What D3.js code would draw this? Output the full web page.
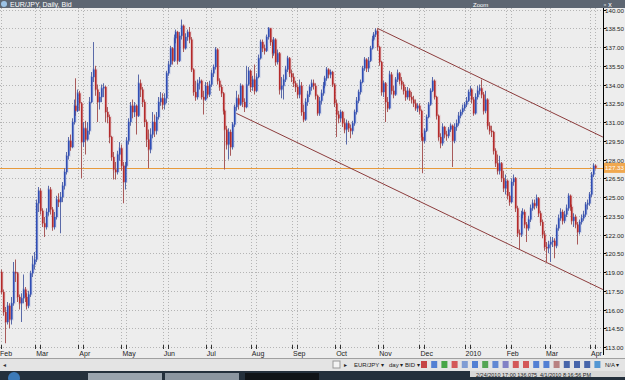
<!DOCTYPE html>
<html>
<head>
<meta charset="utf-8">
<script src="https://cdn.jsdelivr.net/npm/d3@7"></script>
<style>
  body { margin: 0; background: #fff; }
  svg { display: block; font-family: "Liberation Sans", Arial, sans-serif; }
</style>
</head>
<body>
<svg id="svg" width="625" height="380"></svg>
<script>
// EUR/JPY daily bars, Feb 2 2009 .. Apr 1 2010
let firstOpen = 119.0;

let closes = [
  // Feb 2009
  117.4, 115.8, 115.0, 116.3, 115.2, 116.5, 119.0, 118.9, 117.0, 116.5,
  116.9, 117.6, 117.0, 116.3, 117.2, 118.9, 119.6, 120.0, 124.5, 125.5,
  // Mar
  123.9, 122.9, 122.6, 123.8, 125.6, 124.0, 122.6, 123.4, 124.8, 124.6,
  125.0, 125.9, 127.0, 128.3, 129.5, 129.0, 131.0, 132.3, 131.9, 133.3,
  132.5, 129.4,
  // Apr
  130.5, 129.6, 130.3, 132.6, 134.6, 135.2, 133.6, 132.6, 133.0, 133.7,
  133.8, 131.8, 131.4, 129.8, 128.2, 127.2, 127.0, 128.4, 128.9, 127.5,
  126.2, 127.5,
  // May
  129.5, 131.0, 132.3, 131.8, 132.3, 131.5, 134.1, 133.6, 132.6, 131.0,
  129.6, 128.8, 130.0, 131.0, 130.3, 131.4, 132.6, 132.9, 132.4, 132.9,
  134.9,
  // Jun
  135.6, 136.9, 135.9, 137.7, 138.2, 135.9, 137.9, 138.7, 136.9, 137.8,
  138.2, 137.6, 135.2, 133.4, 133.0, 134.1, 134.3, 133.0, 132.8, 133.9,
  133.2, 134.0,
  // Jul
  134.9, 135.4, 136.8, 134.3, 133.8, 133.3, 131.9, 130.4, 129.2, 130.2,
  129.0, 130.8, 132.2, 132.9, 132.4, 133.9, 132.6, 132.2, 134.0, 135.1,
  133.8, 134.4, 133.5,
  // Aug
  134.6, 136.1, 137.4, 136.9, 136.7, 137.8, 138.5, 137.4, 136.5, 137.6,
  135.8, 136.5, 133.6, 133.9, 134.4, 135.2, 136.1, 134.9, 134.6, 134.1,
  133.8,
  // Sep
  133.2, 133.9, 131.8, 131.2, 132.6, 133.2, 133.8, 134.1, 133.9, 133.1,
  131.7, 132.7, 133.3, 133.9, 134.5, 135.2, 134.8, 135.0, 134.0, 132.5,
  131.6, 131.3,
  // Oct
  131.8, 130.9, 130.4, 130.9, 130.5, 130.3, 130.9, 131.8, 132.7, 133.4,
  134.2, 135.3, 136.0, 135.3, 135.9, 136.9, 137.6, 138.0, 138.3, 137.0,
  135.8, 133.4,
  // Nov
  134.1, 132.6, 132.1, 134.8, 133.5, 133.2, 134.4, 134.9, 134.3, 134.0,
  133.5, 133.0, 133.5, 133.0, 132.8, 132.5, 132.1, 132.3, 131.9, 129.8,
  129.5,
  // Dec
  130.3, 131.4, 132.4, 133.5, 134.3, 133.0, 131.5, 129.8, 129.3, 130.6,
  130.0, 129.9, 130.4, 130.7, 129.5, 130.6, 130.9, 131.5, 131.8, 132.1,
  132.4, 132.7, 133.4,
  // Jan 2010
  133.6, 132.8, 131.7, 133.0, 133.5, 133.7, 133.2, 131.9, 132.8, 130.7,
  130.3, 130.2, 128.7, 127.7, 127.1, 127.7, 126.5, 125.7, 126.3, 125.1,
  124.6,
  // Feb
  126.2, 126.5, 124.1, 122.1, 122.0, 123.6, 123.8, 122.8, 122.5, 123.2,
  124.1, 124.5, 124.3, 124.9, 123.7, 123.0, 122.0, 121.0, 120.9, 121.2,
  // Mar
  121.4, 121.5, 121.1, 122.5, 123.3, 123.8, 123.1, 123.6, 124.1, 125.1,
  124.2, 123.1, 123.4, 122.8, 122.2, 123.0, 123.3, 123.6, 124.4, 124.5,
  125.2, 126.8, 127.5,
  // Apr
  127.33
];

let highs = [
  119.2, 117.6, 116.2, 116.6, 116.5, 117.0, 119.8, 120.0, 119.0, 117.2,
  117.3, 118.8, 117.8, 117.3, 117.5, 119.1, 120.3, 120.6, 124.8, 125.8,
  125.7, 124.1, 123.4, 124.1, 125.9, 125.8, 124.2, 123.8, 125.1, 125.3,
  125.4, 126.2, 127.3, 128.6, 129.8, 130.0, 131.3, 132.8, 134.5, 133.6,
  133.5, 132.6,
  131.0, 131.1, 131.0, 133.0, 135.0, 137.4, 135.5, 134.0, 133.4, 134.0,
  134.1, 133.9, 132.2, 131.6, 129.9, 128.6, 127.8, 128.7, 129.4, 129.2,
  127.8, 127.8,
  129.8, 131.3, 132.6, 132.8, 132.6, 132.4, 134.8, 134.4, 133.8, 132.8,
  131.2, 130.4, 130.5, 131.8, 131.6, 131.8, 133.0, 133.4, 133.3, 133.3,
  135.1,
  135.9, 137.1, 137.0, 138.0, 138.4, 138.3, 138.2, 139.2, 138.8, 138.1,
  138.4, 138.6, 137.8, 135.3, 134.3, 134.4, 134.6, 134.4, 133.5, 134.2,
  134.2, 134.3,
  135.2, 135.6, 137.0, 136.9, 134.5, 134.0, 133.4, 132.0, 130.7, 130.5,
  130.4, 131.0, 132.4, 133.5, 133.2, 134.1, 134.0, 132.9, 135.5, 135.4,
  135.2, 134.7, 135.6,
  134.9, 136.4, 137.6, 137.6, 137.2, 138.0, 138.6, 138.5, 137.6, 137.8,
  137.7, 136.8, 136.6, 134.6, 134.8, 135.5, 136.3, 136.2, 135.2, 134.9,
  134.3,
  134.0, 134.4, 134.2, 132.4, 132.9, 133.5, 134.0, 134.4, 134.4, 134.1,
  133.2, 133.0, 133.6, 134.2, 134.7, 135.4, 135.3, 135.2, 135.1, 134.1,
  132.8, 131.9,
  132.0, 131.9, 131.3, 131.2, 131.1, 130.8, 131.1, 132.0, 133.0, 133.6,
  134.4, 135.5, 136.2, 136.1, 136.2, 137.1, 137.9, 138.2, 138.5, 138.5,
  137.1, 135.9,
  134.3, 134.2, 133.0, 135.1, 135.0, 133.9, 134.6, 135.2, 135.0, 134.6,
  134.2, 133.8, 133.8, 133.7, 133.4, 133.1, 132.8, 132.5, 132.5, 132.0,
  130.1,
  130.5, 131.6, 132.6, 133.7, 134.6, 134.4, 133.1, 131.6, 130.1, 130.9,
  130.7, 130.3, 130.6, 130.9, 130.8, 130.9, 131.2, 131.8, 132.0, 132.4,
  132.6, 133.0, 133.6,
  133.9, 133.7, 133.0, 133.3, 133.9, 134.0, 134.4, 133.4, 133.5, 132.9,
  131.0, 130.7, 130.3, 128.9, 128.4, 128.3, 127.8, 127.1, 126.8, 126.4,
  125.4,
  126.5, 126.8, 126.6, 124.3, 122.4, 123.9, 124.1, 124.0, 123.0, 123.5,
  124.4, 124.8, 124.8, 125.2, 125.0, 123.9, 123.2, 122.3, 121.4, 121.5,
  121.8, 121.8, 121.7, 122.8, 123.6, 124.1, 124.0, 123.9, 124.4, 125.3,
  125.2, 124.4, 123.7, 123.6, 123.0, 123.2, 123.6, 123.9, 124.6, 124.8,
  125.4, 127.0, 127.7,
  127.6
];

let lows = [
  117.2, 115.5, 113.3, 114.8, 114.5, 114.8, 116.3, 118.2, 116.6, 116.0,
  115.0, 116.5, 116.6, 116.0, 116.1, 117.0, 118.6, 119.2, 119.8, 123.8,
  123.6, 122.6, 121.8, 122.4, 123.5, 123.6, 122.3, 122.4, 123.2, 124.2,
  122.1, 124.6, 125.6, 126.8, 128.0, 128.7, 128.9, 130.8, 131.5, 131.8,
  131.9, 126.5,
  129.0, 128.4, 129.5, 130.0, 132.5, 134.2, 133.1, 131.0, 132.0, 132.6,
  133.0, 131.0, 130.9, 129.3, 127.9, 126.4, 126.4, 126.8, 127.9, 127.1,
  124.5, 125.6,
  127.4, 129.2, 130.7, 131.3, 131.4, 130.0, 131.4, 133.0, 132.2, 130.6,
  129.0, 127.3, 128.5, 129.7, 129.8, 130.0, 131.2, 132.3, 132.0, 132.0,
  132.5,
  134.7, 135.4, 135.6, 135.8, 137.3, 135.6, 135.8, 137.6, 136.6, 136.8,
  137.5, 137.3, 135.0, 133.1, 132.7, 132.8, 133.6, 132.8, 131.6, 132.7,
  132.9, 133.0,
  133.8, 134.6, 135.2, 134.0, 133.5, 133.0, 131.6, 127.2, 128.8, 128.0,
  128.3, 128.8, 130.6, 131.9, 132.0, 132.3, 132.2, 131.8, 132.1, 133.9,
  133.4, 133.5, 133.2,
  133.4, 134.5, 136.0, 136.6, 136.4, 136.6, 137.6, 137.1, 136.1, 136.3,
  135.5, 135.6, 133.2, 132.9, 132.8, 134.2, 135.0, 134.6, 134.2, 133.8,
  133.4,
  132.9, 132.9, 131.5, 131.0, 131.1, 132.3, 133.0, 133.5, 133.6, 132.8,
  131.5, 131.5, 132.4, 133.1, 133.7, 134.3, 134.5, 134.5, 133.8, 132.2,
  129.8, 130.9,
  131.0, 130.6, 130.1, 129.2, 130.2, 129.7, 130.0, 130.7, 131.6, 132.5,
  133.2, 134.1, 135.1, 135.0, 135.0, 135.8, 136.8, 137.5, 137.8, 136.7,
  135.5, 133.1,
  133.0, 131.0, 131.8, 132.0, 133.2, 132.9, 133.1, 134.2, 134.0, 133.6,
  133.2, 132.7, 132.8, 132.7, 132.5, 132.2, 131.9, 131.8, 131.6, 129.5,
  126.9,
  129.3, 130.2, 131.3, 132.3, 133.4, 132.8, 131.2, 129.5, 128.9, 129.1,
  129.7, 129.5, 129.7, 130.2, 127.4, 129.3, 130.3, 130.7, 131.3, 131.6,
  131.9, 132.2, 132.6,
  133.1, 132.5, 131.5, 131.6, 132.8, 133.2, 132.9, 131.6, 131.7, 130.4,
  130.0, 129.8, 128.4, 127.4, 126.8, 126.8, 126.2, 125.4, 125.2, 124.8,
  124.3,
  124.5, 125.9, 123.8, 121.8, 120.8, 121.8, 123.3, 122.5, 121.4, 122.3,
  123.0, 123.9, 124.0, 124.1, 123.4, 122.7, 121.7, 120.7, 119.7, 120.5,
  119.8, 121.0, 120.1, 120.9, 122.3, 123.1, 122.8, 122.9, 123.4, 123.9,
  123.9, 122.8, 122.6, 122.5, 121.2, 122.0, 122.8, 123.1, 123.4, 124.0,
  124.3, 125.0, 126.6,
  127.2
];

let monthLabels = ["Feb", "Mar", "Apr", "May", "Jun", "Jul", "Aug", "Sep",
                   "Oct", "Nov", "Dec", "2010", "Feb", "Mar", "Apr"];
let priceTicks = d3.range(113, 140.01, 1.5);
let lastPrice = 127.33;

// channel lines, [bar index, price]
let channel = [
  [[192, 138.5], [307, 129.8]],
  [[120, 131.7], [307, 117.6]]
];

// trading days: weekdays from Feb 2 2009
let days = [];
for (let d = new Date(2009, 1, 2); days.length < closes.length; d.setDate(d.getDate() + 1)) {
  if (d.getDay() !== 0 && d.getDay() !== 6) days.push(new Date(d));
}
let monthStarts = days.map((d, i) => i).filter(i => i === 0 || days[i].getMonth() !== days[i - 1].getMonth());

let bars = closes.map((c, i) => {
  let o = i === 0 ? firstOpen : closes[i - 1];
  return { i, o, c, h: Math.max(highs[i], o, c), l: Math.min(lows[i], o, c) };
});

let svg = d3.select("#svg");
let plotR = 603, plotT = 8, plotB = 348;

let x = d3.scaleLinear().domain([0, closes.length - 1]).range([1, 595]);
let y = d3.scaleLinear().domain([113, 138.5]).range([347, 28.3]);

/* backgrounds */
svg.append("rect").attr("width", 625).attr("height", 380).attr("fill", "#ededed");

svg.append("defs").append("clipPath").attr("id", "plotclip")
  .append("rect").attr("x", 0).attr("y", plotT).attr("width", plotR).attr("height", plotB - plotT);

let plot = svg.append("g").attr("clip-path", "url(#plotclip)");

/* grid */
plot.selectAll(".hg").data(priceTicks).join("line")
  .attr("x1", 0).attr("x2", plotR)
  .attr("y1", d => Math.round(y(d)) + 0.5).attr("y2", d => Math.round(y(d)) + 0.5)
  .attr("stroke", "#b4b4b4").attr("stroke-dasharray", "1,2");

monthStarts.forEach(i => {
  [x(i) - 5, x(i)].forEach(gx => {
    plot.append("line")
      .attr("x1", Math.round(gx) + 0.5).attr("x2", Math.round(gx) + 0.5)
      .attr("y1", plotT).attr("y2", plotB)
      .attr("stroke", "#b4b4b4").attr("stroke-dasharray", "1,2");
  });
});

/* last price line */
plot.append("line")
  .attr("x1", 0).attr("x2", plotR)
  .attr("y1", Math.round(y(lastPrice)) + 0.5).attr("y2", Math.round(y(lastPrice)) + 0.5)
  .attr("stroke", "#e79a3c").attr("stroke-width", 1);

/* channel */
channel.forEach(seg => {
  plot.append("line")
    .attr("x1", x(seg[0][0])).attr("y1", y(seg[0][1]))
    .attr("x2", x(seg[1][0])).attr("y2", y(seg[1][1]))
    .attr("stroke", "#8c3c3c").attr("stroke-width", 1);
});

/* candles: soft halo, wick, body */
let up = "#2f4db4", down = "#b42a2a";
let candles = plot.append("g");
candles.selectAll(".halo").data(bars).join("rect")
  .attr("x", d => Math.round(x(d.i)) - 1)
  .attr("width", 3.6)
  .attr("y", d => y(Math.max(d.o, d.c)) - 1)
  .attr("height", d => Math.max(1, Math.abs(y(d.o) - y(d.c))) + 2)
  .attr("fill", d => d.c >= d.o ? "#9aa6d8" : "#d8a0a8")
  .attr("opacity", 0.35);
candles.selectAll(".wick").data(bars).join("line")
  .attr("x1", d => Math.round(x(d.i)) + 0.5).attr("x2", d => Math.round(x(d.i)) + 0.5)
  .attr("y1", d => y(d.h)).attr("y2", d => y(d.l))
  .attr("stroke", d => d.c >= d.o ? "#5a6aa8" : "#a85a5a");
candles.selectAll(".body").data(bars).join("rect")
  .attr("x", d => Math.round(x(d.i)))
  .attr("width", 1.6)
  .attr("y", d => y(Math.max(d.o, d.c)))
  .attr("height", d => Math.max(1, Math.abs(y(d.o) - y(d.c))))
  .attr("fill", d => d.c >= d.o ? up : down);

/* right axis */
svg.append("line").attr("x1", plotR + 0.5).attr("x2", plotR + 0.5)
  .attr("y1", plotT).attr("y2", 355).attr("stroke", "#000");

let axis = svg.append("g");
priceTicks.forEach(p => {
  let ty = Math.round(y(p)) + 0.5;
  axis.append("line").attr("x1", plotR).attr("x2", plotR + 3)
    .attr("y1", ty).attr("y2", ty).attr("stroke", "#000");
  axis.append("text").attr("x", plotR + 2).attr("y", ty).attr("dy", "0.35em")
    .attr("font-size", 6.2).attr("fill", "#222")
    .text(d3.format(".2f")(p));
});

let ly = y(lastPrice);
axis.append("rect").attr("x", plotR + 1).attr("y", ly - 5).attr("width", 21).attr("height", 10)
  .attr("fill", "#f0a850");
axis.append("text").attr("x", plotR + 2).attr("y", ly).attr("dy", "0.35em")
  .attr("font-size", 6.2).attr("fill", "#fff")
  .text(d3.format(".2f")(lastPrice));

/* bottom time axis */
monthStarts.forEach((i, k) => {
  [x(i) - 5, x(i)].forEach(tx => {
    svg.append("line")
      .attr("x1", Math.round(tx) + 0.5).attr("x2", Math.round(tx) + 0.5)
      .attr("y1", 345).attr("y2", 349).attr("stroke", "#333");
  });
  svg.append("text").attr("x", Math.max(0, x(i) - 4)).attr("y", 356)
    .attr("font-size", 7).attr("fill", "#222").text(monthLabels[k]);
});

/* title strip */
svg.append("rect").attr("width", 625).attr("height", plotT).attr("fill", "#5d6672");
svg.append("circle").attr("cx", 4).attr("cy", 4).attr("r", 3).attr("fill", "#9cc3e6");
svg.append("text").attr("x", 10).attr("y", 7).attr("font-size", 7).attr("fill", "#fff")
  .text("EUR/JPY, Daily, Bid");
svg.append("text").attr("x", 473).attr("y", 7).attr("font-size", 6).attr("fill", "#fff").text("Zoom");
svg.append("text").attr("x", 598).attr("y", 7).attr("font-size", 7).attr("fill", "#fff").text("_  ▫  x");

/* toolbar + status bar */
svg.append("line").attr("x1", 0).attr("x2", 625).attr("y1", 358.5).attr("y2", 358.5).attr("stroke", "#a0a0a0");
svg.append("rect").attr("y", 359).attr("width", 625).attr("height", 12).attr("fill", "#e4e4e4");
svg.append("text").attr("x", 3).attr("y", 367).attr("font-size", 6).attr("fill", "#333").text("◂");
svg.append("rect").attr("x", 333).attr("y", 361).attr("width", 7).attr("height", 7)
  .attr("fill", "#f4f4f4").attr("stroke", "#999");
let tb = [["▸", 344], ["EUR/JPY ▾", 354], ["day ▾", 389], ["BID ▾", 405]];
tb.forEach(t => svg.append("text").attr("x", t[1]).attr("y", 367).attr("font-size", 6)
  .attr("fill", "#222").text(t[0]));
let icons = ["#c02828", "#3a6fd0", "#2c9a2c", "#d04040", "#6d8fd0", "#3a6fd0",
             "#3c9a3c", "#4a78d0", "#7070c0", "#d04040", "#d04040", "#3a6fd0", "#3a6fd0",
             "#b07070", "#2c4fa0", "#2c4fa0", "#2c4fa0", "#3a8ad0"];
icons.forEach((c, k) => svg.append("rect").attr("x", 421 + k * 10.2).attr("y", 361)
  .attr("width", 6).attr("height", 7).attr("fill", c).attr("opacity", 0.85));
svg.append("text").attr("x", 605).attr("y", 367).attr("font-size", 6).attr("fill", "#222").text("N/A ▾");

svg.append("rect").attr("y", 371).attr("width", 625).attr("height", 9).attr("fill", "#24303c");
svg.append("rect").attr("x", 470).attr("y", 371).attr("width", 155).attr("height", 6).attr("fill", "#d8d8d8");
svg.append("text").attr("x", 476).attr("y", 376.5).attr("font-size", 5.5).attr("fill", "#222")
  .text("2/24/2010 17:00  136.075");
svg.append("text").attr("x", 540).attr("y", 376.5).attr("font-size", 5.5).attr("fill", "#222")
  .text("4/1/2010 8:16:56 PM");
svg.append("circle").attr("cx", 14).attr("cy", 378).attr("r", 6).attr("fill", "#3c7ab8");
[[88, "#9aa4ae"], [165, "#8c96a0"], [245, "#101418"]].forEach(b =>
  svg.append("rect").attr("x", b[0]).attr("y", 373).attr("width", 74).attr("height", 7).attr("fill", b[1]));
</script>
</body>
</html>
